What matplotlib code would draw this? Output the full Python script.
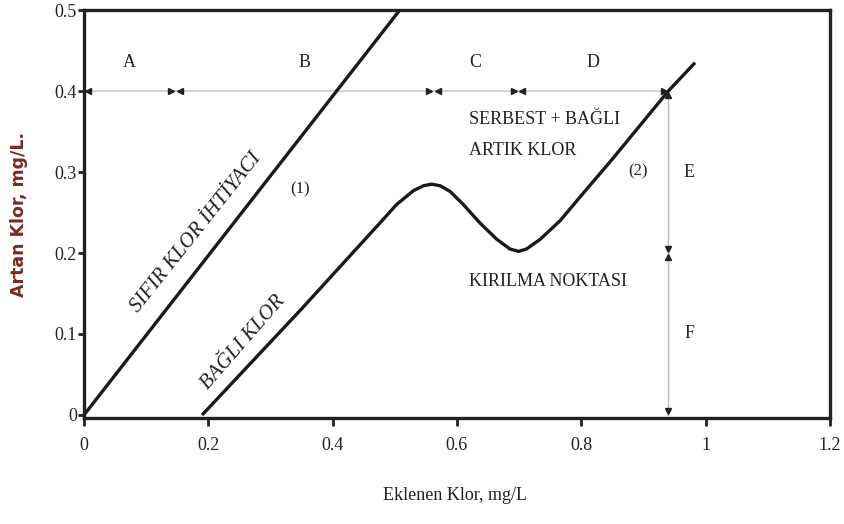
import matplotlib
matplotlib.use("Agg")
import matplotlib.pyplot as plt
from matplotlib.transforms import ScaledTranslation

# ---- data ----
line1_x = [0.0, 0.508]
line1_y = [0.0, 0.5]

curve2_x = [0.19, 0.35, 0.476, 0.503, 0.530, 0.546, 0.559, 0.573, 0.589, 0.610, 0.637,
            0.664, 0.685, 0.699, 0.712, 0.734, 0.766, 0.80, 0.85, 0.94, 0.983]
curve2_y = [0.0, 0.131, 0.237, 0.260, 0.277, 0.283, 0.285, 0.283, 0.276, 0.260, 0.237,
            0.217, 0.205, 0.202, 0.205, 0.217, 0.240, 0.271, 0.316, 0.40, 0.435]

h_bounds = [0.0, 0.147, 0.562, 0.698, 0.94]
h_labels = ["A", "B", "C", "D"]
dim_y = 0.4
v_bounds = [0.0, 0.2, 0.4]
v_labels = ["F", "E"]

x_ticks = [0, 0.2, 0.4, 0.6, 0.8, 1.0, 1.2]
x_ticklabels = ["0", "0.2", "0.4", "0.6", "0.8", "1", "1.2"]
y_ticks = [0, 0.1, 0.2, 0.3, 0.4, 0.5]
y_ticklabels = ["0", "0.1", "0.2", "0.3", "0.4", "0.5"]

plt.rcParams['font.family'] = ['Liberation Serif', 'DejaVu Serif']

fig = plt.figure(figsize=(8.45, 5.24), dpi=100)
ax = fig.add_axes([0.0994, 0.2023, 0.8828, 0.7786])
ax.set_xlim(0, 1.2)
ax.set_ylim(-0.0037, 0.5)

for s in ax.spines.values():
    s.set_linewidth(2.4)
    s.set_color('#222222')

ax.set_xticks(x_ticks)
ax.set_xticklabels(x_ticklabels)
ax.set_yticks(y_ticks)
ax.set_yticklabels(y_ticklabels)
ax.tick_params(axis='x', direction='out', length=6, width=2, labelsize=13, pad=8, colors='#222222')
ax.tick_params(axis='y', direction='out', length=4, width=2, labelsize=13, pad=1, colors='#222222')

# curves
ax.plot(line1_x, line1_y, color='#1a1a1a', lw=2.4, solid_capstyle='butt', clip_on=False)
ax.plot(curve2_x, curve2_y, color='#1a1a1a', lw=2.4, solid_capstyle='butt',
        solid_joinstyle='round', clip_on=False)

# horizontal dimension line
dimc = '#d9c6c6'
headc = '#222222'
ax.plot([h_bounds[0], h_bounds[-1]], [dim_y, dim_y], color=dimc, lw=1.2, zorder=1)
off = 3.0 / 72
left_tr = ax.transData + ScaledTranslation(-off, 0, fig.dpi_scale_trans)
right_tr = ax.transData + ScaledTranslation(off, 0, fig.dpi_scale_trans)
for i, b in enumerate(h_bounds):
    if i > 0:
        ax.plot([b], [dim_y], marker='>', ms=5, color=headc, transform=left_tr, clip_on=False)
    if i < len(h_bounds) - 1:
        ax.plot([b], [dim_y], marker='<', ms=5, color=headc, transform=right_tr, clip_on=False)
for i, lab in enumerate(h_labels):
    xm = (h_bounds[i] + h_bounds[i + 1]) / 2
    ax.text(xm, 0.435, lab, ha='center', va='center', fontsize=13, color='#222222')

# vertical dimension line
vx = h_bounds[-1]
ax.plot([vx, vx], [v_bounds[0], v_bounds[-1]], color='#bbbbbb', lw=1.0, zorder=1)
down_tr = ax.transData + ScaledTranslation(0, -off, fig.dpi_scale_trans)
up_tr = ax.transData + ScaledTranslation(0, off, fig.dpi_scale_trans)
for i, b in enumerate(v_bounds):
    if i > 0:
        ax.plot([vx], [b], marker='^', ms=5, color=headc, transform=down_tr, clip_on=False)
    if i < len(v_bounds) - 1:
        ax.plot([vx], [b], marker='v', ms=5, color=headc, transform=up_tr, clip_on=False)
for i, lab in enumerate(v_labels):
    ym = (v_bounds[i] + v_bounds[i + 1]) / 2
    ax.text(0.974, ym, lab, ha='center', va='center', fontsize=13, color='#222222')

# annotations
tc = '#222222'
ax.text(0.62, 0.365, "SERBEST + BAĞLI", ha='left', va='center', fontsize=13, color=tc)
ax.text(0.62, 0.326, "ARTIK KLOR", ha='left', va='center', fontsize=13, color=tc)
ax.text(0.62, 0.165, "KIRILMA NOKTASI", ha='left', va='center', fontsize=13, color=tc)
ax.text(0.348, 0.278, "(1)", ha='center', va='center', fontsize=12, color=tc)
ax.text(0.891, 0.301, "(2)", ha='center', va='center', fontsize=12, color=tc)
ax.text(0.180, 0.225, "SIFIR KLOR İHTİYACI", ha='center', va='center', fontsize=15,
        color=tc, rotation=51.5, style='italic', rotation_mode='anchor')
ax.text(0.256, 0.090, "BAĞLI KLOR", ha='center', va='center', fontsize=15,
        color=tc, rotation=49, style='italic', rotation_mode='anchor')

fig.text(0.538, 0.055, "Eklenen Klor, mg/L", ha='center', va='center', fontsize=13, color=tc)
fig.text(0.0225, 0.59, "Artan Klor, mg/L.", ha='center', va='center', fontsize=12.5,
         color='#7a2a22', rotation=90, fontweight='bold', family='DejaVu Sans')

fig.savefig("out.png", dpi=100)
